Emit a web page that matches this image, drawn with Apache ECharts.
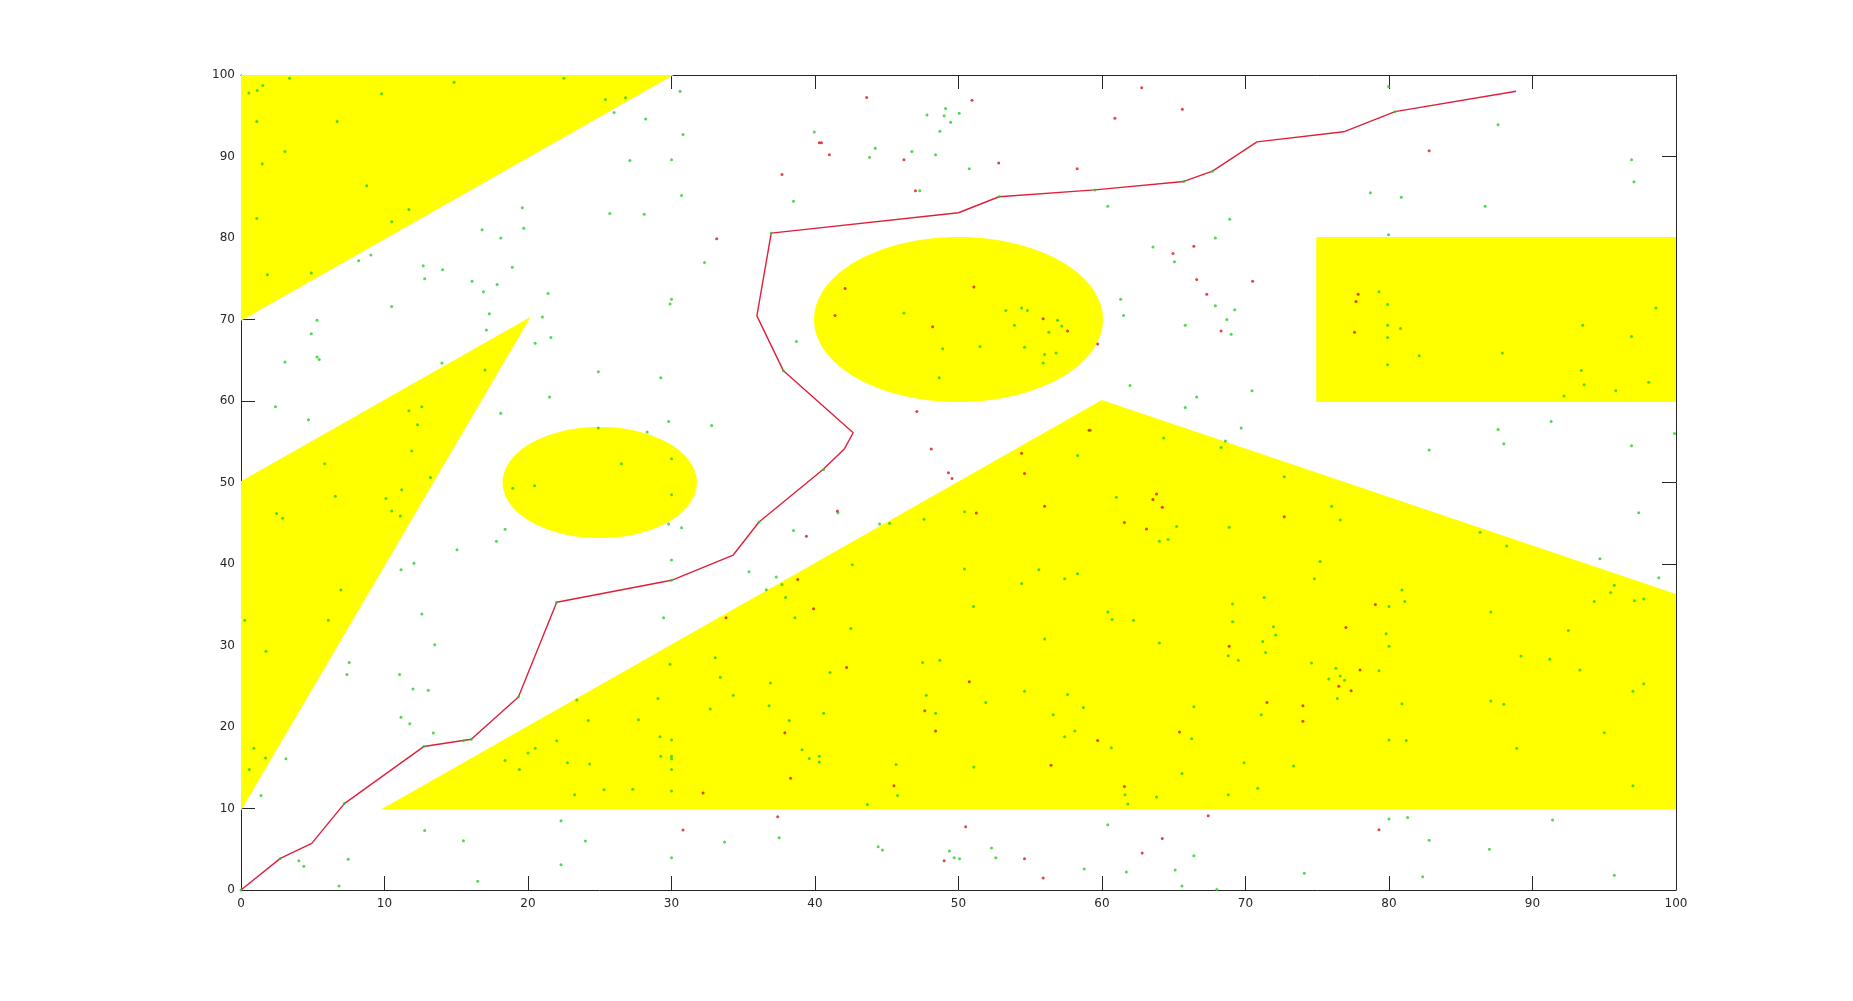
<!DOCTYPE html>
<html>
<head>
<meta charset="utf-8">
<title>Path planning map</title>
<script src="https://cdn.jsdelivr.net/npm/echarts@6/dist/echarts.min.js"></script>
<style>
html, body {margin: 0; padding: 0; background: #fff;}
#main {width: 1853px; height: 1001px;}
</style>
</head>
<body>
<div id="main"></div>
<script>
/* Axis ticks. */
var xTicks = [0, 10, 20, 30, 40, 50, 60, 70, 80, 90, 100];
var yTicks = [0, 10, 20, 30, 40, 50, 60, 70, 80, 90, 100];

/* Obstacles (polygon vertices and circles). */
var obstacleTopLeft  = [[0, 100], [30, 100], [0, 70]];
var obstacleLeft     = [[0, 50], [20, 70], [0, 10]];
var obstacleBottom   = [[10, 10], [60, 60], [100, 36.2], [100, 10]];
var obstacleRect     = [[75, 60], [100, 60], [100, 80], [75, 80]];
var circleCenters    = [[25, 50], [50, 70]];
var circleRadii      = [6.7, 10];

/* Final path. */
var pathPoints = [
    [0, 0], [2.74, 3.88], [4.93, 5.72], [7.2, 10.6], [12.73, 17.6], [16.05, 18.5],
    [19.33, 23.67], [22.0, 35.3], [30.0, 38.0], [34.3, 41.1], [36.1, 45.15],
    [40.56, 51.6], [42.04, 54.1], [42.66, 56.1], [37.8, 63.7], [35.95, 70.45],
    [36.95, 80.6], [50.0, 83.1], [52.83, 85.06], [59.5, 85.9], [65.7, 86.94],
    [67.7, 88.2], [70.8, 91.8], [76.84, 93.03], [80.42, 95.5], [88.86, 98.0]
];

/* Sampled nodes. */
var greenNodes = [
    [3.38, 99.6], [1.52, 98.7], [1.13, 98.1], [0.55, 97.8], [14.85, 99.1], [22.5, 99.6], [9.8, 97.7],
    [1.1, 94.3], [6.7, 94.3], [3.06, 90.6], [1.48, 89.1], [25.4, 97.0], [26.8, 97.2], [26.0, 95.4],
    [8.76, 86.4], [11.7, 83.5], [1.1, 82.4], [10.5, 82.0], [4.9, 75.7], [1.84, 75.5],
    [30.6, 98.0], [28.2, 94.6], [30.8, 92.7], [27.1, 89.5], [30.0, 89.6], [30.7, 85.2], [25.7, 83.0],
    [28.1, 82.9], [19.6, 83.7], [19.7, 81.2], [16.8, 81.0], [18.1, 80.0], [9.05, 77.9], [8.2, 77.2],
    [12.7, 76.6], [14.05, 76.1], [12.8, 75.0], [18.9, 76.4], [16.1, 74.7], [17.85, 74.3], [16.9, 73.4],
    [21.4, 73.2], [32.3, 77.0], [30.0, 72.5], [29.9, 71.9], [10.5, 71.6], [17.3, 70.7], [5.3, 69.9],
    [4.9, 68.25], [21.0, 70.3], [17.1, 68.7], [5.3, 65.4], [5.45, 65.1], [3.06, 64.8], [21.6, 67.8],
    [20.5, 67.1], [14.0, 64.65], [17.0, 63.8], [24.9, 63.6], [29.25, 62.85], [38.7, 67.3], [2.4, 59.3],
    [4.7, 57.7], [21.5, 60.5], [18.1, 58.5], [11.7, 58.8], [12.6, 59.3], [12.3, 57.1], [11.9, 53.85],
    [5.83, 52.3], [13.2, 50.6], [24.9, 56.7], [28.3, 56.2], [29.8, 57.5], [32.8, 57.0], [26.5, 52.3],
    [30.0, 52.9], [39.95, 93.0], [38.5, 84.5], [44.2, 91.0], [43.8, 89.9], [46.75, 90.6], [48.4, 90.2],
    [47.8, 95.1], [49.1, 95.9], [49.0, 95.0], [49.45, 94.2], [48.7, 93.1], [50.05, 95.3], [47.3, 85.8],
    [46.2, 70.8], [48.9, 66.4], [48.65, 62.85], [40.6, 51.6],
    [79.97, 98.6], [87.6, 93.9], [50.75, 88.5], [96.9, 89.6], [97.07, 86.9], [78.7, 85.55], [80.85, 85.0],
    [86.7, 83.9], [60.4, 83.9], [68.9, 82.3], [67.9, 80.0], [79.97, 80.4], [63.55, 78.9], [65.05, 77.1],
    [61.3, 72.5], [61.5, 70.5], [67.9, 71.7], [69.25, 71.2], [68.7, 70.0], [65.8, 69.3], [69.0, 68.2],
    [53.3, 71.1], [54.4, 71.4], [54.8, 71.1], [53.9, 69.3], [56.9, 69.9], [57.2, 69.2], [56.3, 68.45],
    [51.5, 66.7], [54.6, 66.6], [56.0, 65.7], [56.8, 65.9], [55.9, 64.65], [61.95, 61.9], [66.6, 60.5],
    [70.45, 61.25], [65.8, 59.2], [69.7, 56.7], [64.3, 55.45], [68.6, 55.1], [68.3, 54.3], [59.2, 56.4],
    [58.3, 53.3], [72.7, 50.7], [79.3, 73.4], [79.9, 71.85], [79.9, 69.3], [80.8, 68.9], [79.9, 67.8],
    [82.1, 65.55], [79.9, 64.45], [87.9, 65.9], [93.5, 69.3], [96.9, 67.9], [98.6, 71.4], [93.4, 63.75],
    [93.6, 62.0], [92.2, 60.6], [95.8, 61.25], [98.1, 62.3], [91.3, 57.5], [87.6, 56.5], [88.0, 54.75],
    [82.8, 54.0], [96.9, 54.5], [99.9, 56.0],
    [6.57, 48.3], [10.1, 48.05], [11.2, 49.1], [2.48, 46.2], [2.9, 45.6], [10.5, 46.5], [11.1, 45.9],
    [6.96, 36.8], [0.26, 33.1], [6.09, 33.1], [1.74, 29.3], [0.9, 17.4], [1.71, 16.2], [0.58, 14.8],
    [3.13, 16.1], [1.39, 11.6], [7.54, 27.9], [7.38, 26.45], [11.05, 26.45], [11.98, 24.66], [13.05, 24.5],
    [11.15, 39.3], [12.05, 40.1], [12.6, 33.85], [13.5, 30.1], [11.15, 21.2], [11.76, 20.4], [13.4, 19.26],
    [15.05, 41.75], [17.8, 42.8], [18.4, 44.25], [18.94, 49.3], [20.46, 49.6], [30.0, 48.5], [29.8, 44.9],
    [30.7, 44.45], [30.0, 40.5], [29.45, 33.4], [35.4, 39.05], [37.3, 38.4], [36.6, 36.85], [37.7, 37.5],
    [38.5, 44.1], [41.6, 46.3], [44.5, 44.9], [45.2, 45.0], [47.6, 45.5], [42.6, 39.9], [12.8, 7.3],
    [15.5, 6.05], [7.47, 3.76], [4.03, 3.6], [4.38, 2.9], [6.83, 0.5], [16.5, 1.06], [22.3, 8.5],
    [24.0, 6.0], [22.3, 3.1], [30.0, 3.96], [33.7, 5.9], [37.5, 6.4], [44.4, 5.3], [44.7, 4.9],
    [49.36, 4.78], [49.7, 3.96], [37.95, 35.9], [38.6, 33.4], [42.5, 32.1], [33.05, 28.5], [29.9, 27.7],
    [33.4, 26.1], [36.9, 25.4], [34.3, 23.9], [41.05, 26.7], [47.5, 27.9], [48.7, 28.2], [47.75, 23.9],
    [48.4, 21.7], [29.06, 23.5], [23.4, 23.3], [32.7, 22.2], [36.8, 22.6], [40.6, 21.7], [38.2, 20.8],
    [24.2, 20.8], [27.7, 20.9], [22.0, 18.3], [29.2, 18.8], [30.0, 18.4], [30.0, 16.4], [30.0, 16.1],
    [29.25, 16.4], [20.5, 17.4], [20.0, 16.8], [18.4, 15.9], [19.4, 14.8], [22.75, 15.6], [24.3, 15.45],
    [30.0, 14.8], [39.1, 17.2], [39.6, 16.15], [40.3, 16.4], [40.3, 15.7], [45.65, 15.4], [45.75, 11.6],
    [43.65, 10.5], [23.25, 11.7], [25.3, 12.3], [27.3, 12.35], [30.0, 12.14],
    [50.42, 46.4], [61.0, 48.2], [65.2, 44.6], [68.86, 44.5], [64.0, 42.8], [64.6, 43.0], [76.0, 47.1],
    [76.6, 45.4], [86.35, 43.9], [88.2, 42.2], [94.7, 40.65], [97.4, 46.3], [98.8, 38.3], [95.7, 37.4],
    [95.45, 36.5], [94.3, 35.4], [97.1, 35.5], [97.75, 35.7], [50.42, 39.4], [55.6, 39.3], [57.4, 38.2],
    [58.3, 38.8], [54.4, 37.6], [51.04, 34.8], [75.2, 40.3], [74.8, 38.2], [71.3, 35.9], [69.1, 35.1],
    [69.1, 32.9], [80.9, 36.8], [81.1, 35.4], [80.0, 34.8], [87.1, 34.1], [92.5, 31.85], [60.4, 34.1],
    [60.7, 33.2], [62.2, 33.1], [56.0, 30.8], [64.0, 30.3], [71.95, 32.3], [72.1, 31.3], [71.2, 30.5],
    [71.4, 29.15], [68.8, 28.75], [69.5, 28.2], [79.8, 31.45], [80.0, 29.9], [89.2, 28.7], [91.2, 28.3],
    [93.3, 27.0], [74.6, 27.85], [76.3, 27.2], [79.3, 26.9], [75.8, 25.9], [76.6, 26.25], [76.9, 25.75],
    [76.4, 23.5], [54.6, 24.4], [57.6, 24.0], [51.9, 23.0], [58.7, 22.4], [56.6, 21.5], [66.4, 22.5],
    [71.1, 21.5], [80.9, 22.85], [87.1, 23.2], [88.0, 22.8], [97.0, 24.4], [97.75, 25.3], [58.1, 19.5],
    [57.4, 18.8], [66.25, 18.55], [60.65, 17.45], [80.0, 18.4], [81.2, 18.35], [88.9, 17.4], [95.0, 19.3],
    [51.07, 15.1], [69.9, 15.6], [73.35, 15.2], [65.57, 14.3], [70.85, 12.47], [61.6, 11.7], [61.8, 10.55],
    [63.8, 11.4], [68.8, 11.7], [97.0, 12.8], [60.4, 8.0], [52.3, 5.15], [52.6, 3.96], [50.07, 3.84],
    [58.76, 2.57], [61.7, 2.2], [65.1, 2.45], [65.57, 0.5], [66.4, 4.2], [68.0, 0.07], [74.1, 2.04],
    [80.0, 8.7], [81.3, 8.9], [82.8, 6.1], [82.35, 1.63], [87.0, 5.0], [91.4, 8.6], [95.7, 1.8],
    [0, 0], [2.74, 3.88], [7.2, 10.6], [12.73, 17.6], [15.5, 18.3], [16.05, 18.5], [19.33, 23.67],
    [22.0, 35.3], [30.0, 38.0], [36.1, 45.15], [37.8, 63.7], [36.95, 80.6], [52.83, 85.06], [59.5, 85.9],
    [65.7, 86.94], [67.7, 88.2], [80.42, 95.5]
];

var redNodes = [
    [43.6, 97.25], [40.3, 91.7], [40.45, 91.7], [41.0, 90.2], [37.7, 87.8], [46.2, 89.6], [47.0, 85.8],
    [33.15, 79.9], [42.1, 73.8], [41.4, 70.5], [48.2, 69.1], [47.1, 58.7], [48.1, 54.1], [49.3, 51.2],
    [49.55, 50.5],
    [62.77, 98.43], [50.94, 96.9], [65.6, 95.8], [60.9, 94.7], [82.8, 90.7], [52.8, 89.2], [58.27, 88.5],
    [66.4, 79.0], [64.95, 78.1], [66.6, 74.9], [70.5, 74.7], [67.3, 73.1], [51.07, 74.0], [55.9, 70.1],
    [57.6, 68.6], [59.7, 67.0], [68.3, 68.6], [77.85, 73.1], [77.7, 72.2], [77.6, 68.45], [59.1, 56.4],
    [54.4, 53.6], [54.6, 51.1],
    [41.56, 46.5], [39.4, 43.4], [38.8, 38.1], [39.9, 34.5], [33.8, 33.4], [42.2, 27.3], [47.65, 22.0],
    [48.4, 19.5], [37.9, 19.3], [38.3, 13.7], [32.2, 11.9], [45.5, 12.8], [37.4, 9.0], [30.8, 7.35],
    [49.0, 3.6],
    [51.24, 46.25], [56.0, 47.1], [61.56, 45.1], [63.1, 44.3], [63.55, 47.9], [63.8, 48.6], [64.2, 46.95],
    [72.7, 45.8], [79.05, 35.04], [77.0, 32.2], [68.86, 29.9], [77.98, 27.0], [76.5, 25.0], [77.36, 24.45],
    [50.75, 25.55], [71.5, 23.0], [74.0, 22.6], [74.0, 20.7], [65.4, 19.4], [59.7, 18.35], [56.45, 15.3],
    [61.56, 12.7], [67.4, 9.1], [50.5, 7.76], [64.2, 6.33], [62.8, 4.53], [54.6, 3.84], [55.9, 1.47],
    [79.3, 7.4]
];

/**
 * Build the list of obstacle outlines in data units.
 *
 * @access public
 * @return array
 */
function buildObstacles()
{
    var shapes = [obstacleTopLeft, obstacleLeft, obstacleBottom, obstacleRect];
    for(var i = 0; i < circleCenters.length; i++)
    {
        var ring = [];
        for(var k = 0; k < 120; k++)
        {
            var a = k / 120 * Math.PI * 2;
            ring.push([circleCenters[i][0] + circleRadii[i] * Math.cos(a), circleCenters[i][1] + circleRadii[i] * Math.sin(a)]);
        }
        shapes.push(ring);
    }
    return shapes;
}

/**
 * Draw the planner map.
 *
 * @param  string $id
 * @access public
 * @return object
 */
function drawPlannerMap(id)
{
    var axisColor  = '#262626';
    var labelStyle = {color: axisColor, fontSize: 12, fontFamily: 'DejaVu Sans'};
    var tickStyle  = {show: true, inside: true, length: 14, lineStyle: {color: axisColor, width: 1}};
    var lineStyle  = {show: true, onZero: false, lineStyle: {color: axisColor, width: 1}};

    var obstacles = buildObstacles();
    var obstacleIndex = obstacles.map(function(s, i) { return [i]; });

    var makeX = function(pos, showLabel)
    {
        return {
            type: 'value', min: xTicks[0], max: xTicks[xTicks.length - 1], interval: xTicks[1] - xTicks[0],
            position: pos, axisLine: lineStyle, axisTick: tickStyle, splitLine: {show: false},
            axisLabel: Object.assign({show: showLabel, margin: 8}, labelStyle)
        };
    };
    var makeY = function(pos, showLabel)
    {
        return {
            type: 'value', min: yTicks[0], max: yTicks[yTicks.length - 1], interval: yTicks[1] - yTicks[0],
            position: pos, axisLine: lineStyle, axisTick: tickStyle, splitLine: {show: false},
            axisLabel: Object.assign({show: showLabel, margin: 6}, labelStyle)
        };
    };

    var chart  = echarts.init(document.getElementById(id));
    var option = {
        animation: false,
        backgroundColor: '#fff',
        grid: {left: 241, right: 177, top: 75, bottom: 111},
        xAxis: [makeX('bottom', true), makeX('top', false)],
        yAxis: [makeY('left', true), makeY('right', false)],
        series: [
            {
                type: 'custom',
                silent: true,
                clip: true,
                z: 1,
                data: obstacleIndex,
                renderItem: function(params, api)
                {
                    var pts = obstacles[params.dataIndex].map(function(p) { return api.coord(p); });
                    return {type: 'polygon', shape: {points: pts}, style: {fill: '#ffff00', stroke: '#ffff00', lineWidth: 2}};
                }
            },
            {
                type: 'line',
                z: 3,
                data: pathPoints,
                symbol: 'none',
                silent: true,
                lineStyle: {color: '#e0203a', width: 1.4}
            },
            {
                type: 'scatter',
                z: 4,
                data: greenNodes,
                symbol: 'circle',
                symbolSize: 3,
                silent: true,
                itemStyle: {color: '#22d022'}
            },
            {
                type: 'scatter',
                z: 5,
                data: redNodes,
                symbol: 'circle',
                symbolSize: 3,
                silent: true,
                itemStyle: {color: '#d8141c'}
            }
        ]
    };
    chart.setOption(option);

    return chart;
}

drawPlannerMap('main');
</script>
</body>
</html>
